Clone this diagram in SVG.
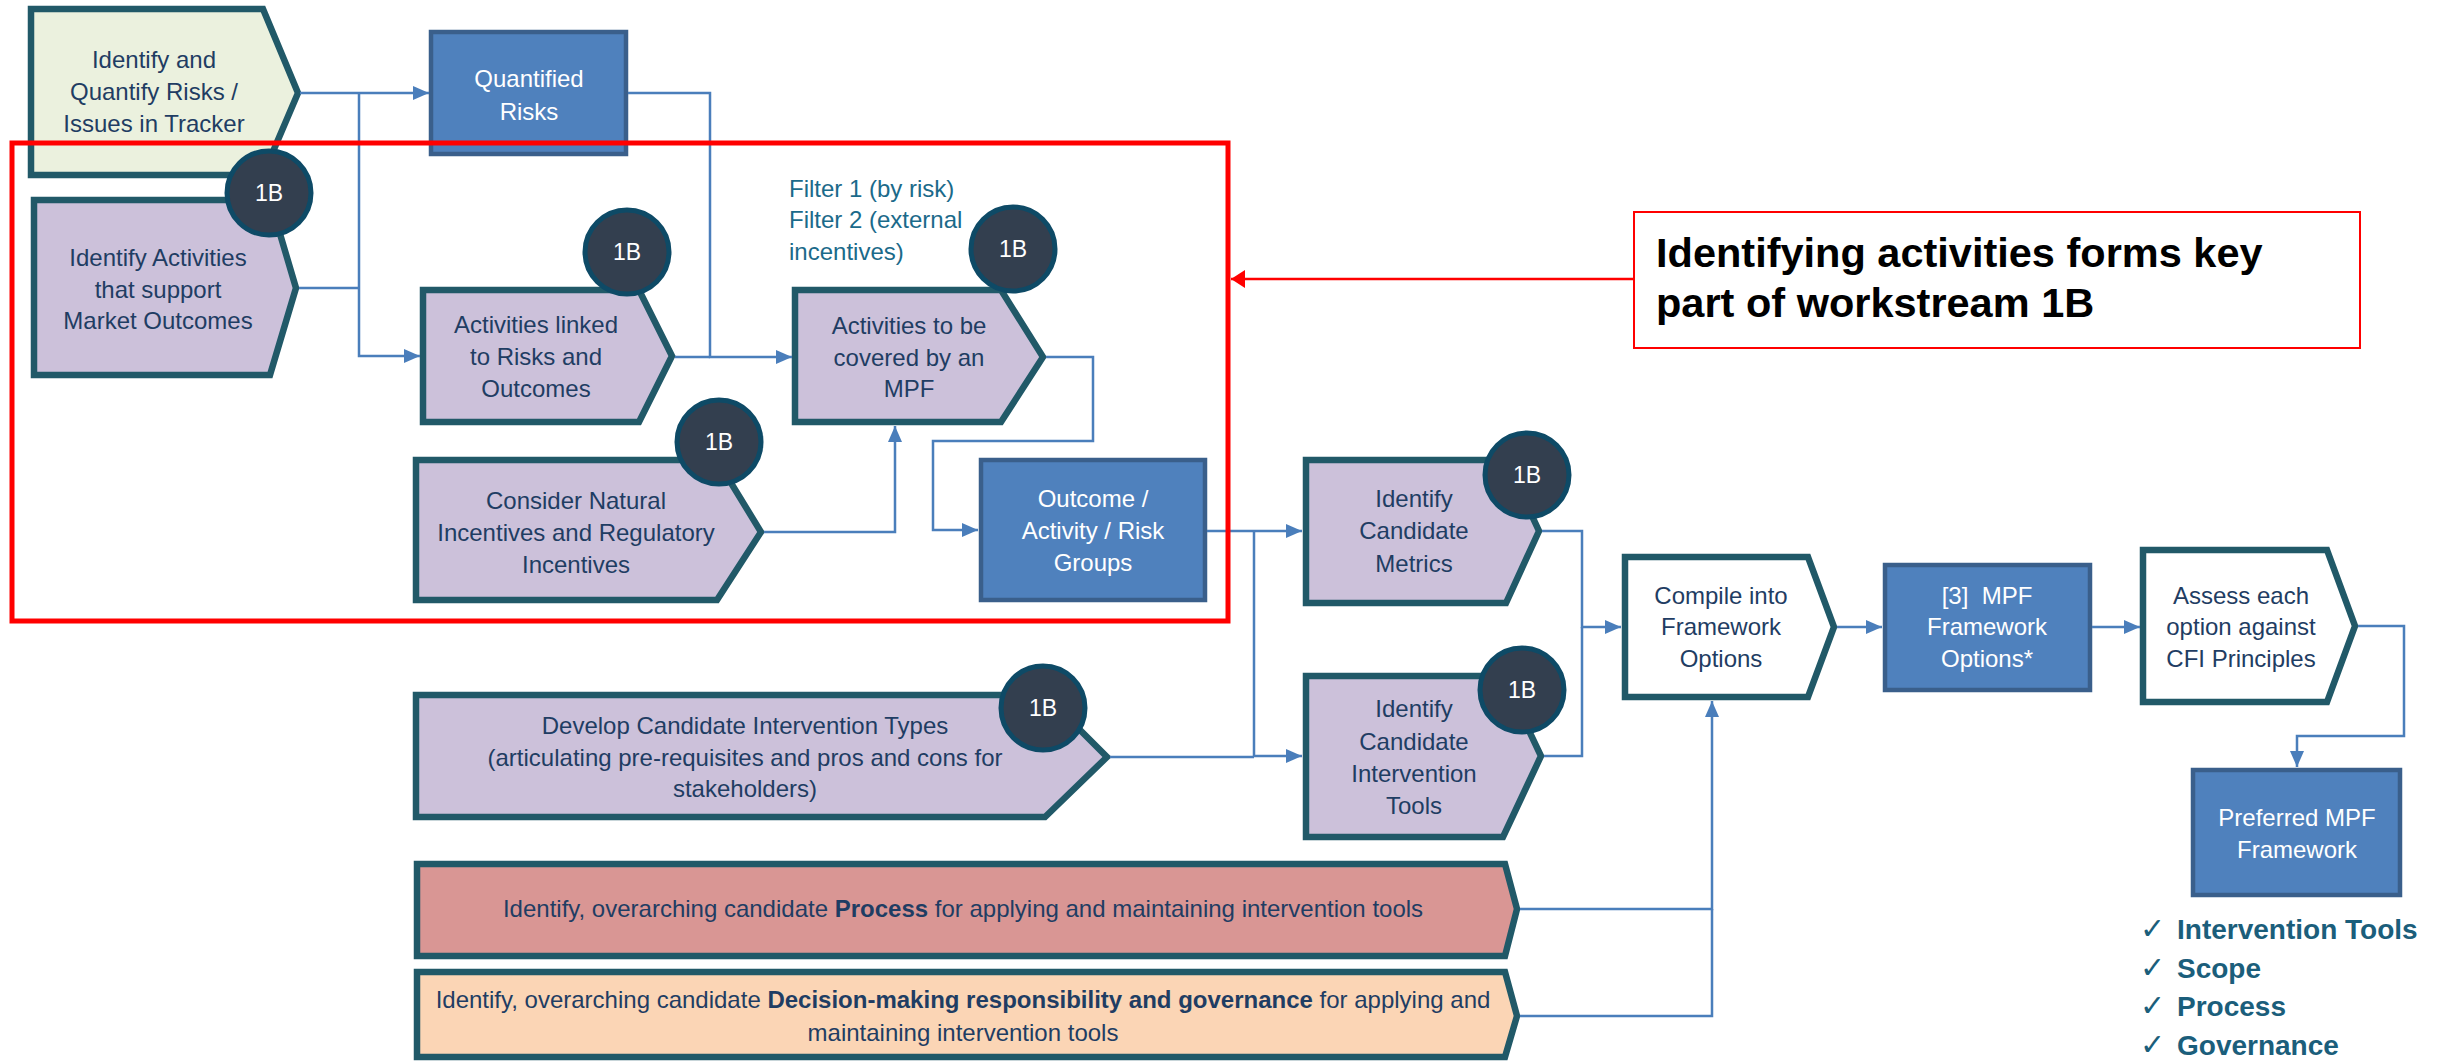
<svg xmlns="http://www.w3.org/2000/svg" width="2448" height="1062" viewBox="0 0 2448 1062">
<defs>
<style>
.chev{stroke:#215968;stroke-width:6.5;stroke-linejoin:miter}
.purple{fill:#CCC1DA}
.green{fill:#EBF1DE}
.wht{fill:#FFFFFF}
.pink{fill:#D99694}
.peach{fill:#FBD5B5}
.blue{fill:#4F81BD;stroke:#3A5F8B;stroke-width:4.5}
.bc{fill:#333F4F;stroke:#0E4A66;stroke-width:5}
.bt{font-family:"Liberation Sans",Arial,sans-serif;font-size:23px;fill:#FFFFFF;text-anchor:middle}
.t{font-family:"Liberation Sans",Arial,sans-serif;font-size:24px;fill:#1F3D63;text-anchor:middle}
.tw{fill:#FFFFFF}
.tl{font-family:"Liberation Sans",Arial,sans-serif;font-size:24px;fill:#1F3D63;text-anchor:middle}
.flt{font-family:"Liberation Sans",Arial,sans-serif;font-size:24px;fill:#1B6A8A}
.conn{fill:none;stroke:#4A7EBB;stroke-width:2.5}
.chk{font-family:"Liberation Sans",Arial,sans-serif;font-size:28px;font-weight:bold;fill:#1B5E7B}
.ck{font-family:"DejaVu Sans",sans-serif;font-size:30px;fill:#1B5E7B}
</style>
<marker id="ab" markerUnits="userSpaceOnUse" markerWidth="17" markerHeight="14" refX="16" refY="7" orient="auto">
<path d="M0,0 L16,7 L0,14 z" fill="#4A7EBB"/>
</marker>
<marker id="ar" markerUnits="userSpaceOnUse" markerWidth="15" markerHeight="18" refX="14" refY="9" orient="auto">
<path d="M0,0 L14,9 L0,18 z" fill="#FF0000"/>
</marker>
</defs>
<rect x="0" y="0" width="2448" height="1062" fill="#FFFFFF"/>

<g id="n-identify-quantify">
<polygon class="chev green" points="31,9 263,9 298,93 263,175 31,175"/>
<text class="t" x="154" y="68">Identify and</text>
<text class="t" x="154" y="100">Quantify Risks /</text>
<text class="t" x="154" y="132">Issues in Tracker</text>
</g>

<g id="n-quantified-risks">
<rect class="blue" x="431" y="32" width="195" height="122"/>
<text class="t tw" x="529" y="87">Quantified</text>
<text class="t tw" x="529" y="120">Risks</text>
</g>

<g id="n-identify-activities">
<polygon class="chev purple" points="34,200 270,200 296,288 270,375 34,375"/>
<text class="t" x="158" y="266">Identify Activities</text>
<text class="t" x="158" y="298">that support</text>
<text class="t" x="158" y="329">Market Outcomes</text>
<circle class="bc" cx="269" cy="193" r="42"/>
<text class="bt" x="269" y="201">1B</text>
</g>

<g id="n-activities-linked">
<polygon class="chev purple" points="423,290 639,290 672,356 639,422 423,422"/>
<text class="t" x="536" y="333">Activities linked</text>
<text class="t" x="536" y="365">to Risks and</text>
<text class="t" x="536" y="397">Outcomes</text>
<circle class="bc" cx="627" cy="252" r="42"/>
<text class="bt" x="627" y="260">1B</text>
</g>

<g id="filter-label">
<text class="flt" x="789" y="197">Filter 1 (by risk)</text>
<text class="flt" x="789" y="228">Filter 2 (external</text>
<text class="flt" x="789" y="260">incentives)</text>
</g>

<g id="n-activities-covered">
<polygon class="chev purple" points="795,290 1001,290 1043,357 1001,422 795,422"/>
<text class="t" x="909" y="334">Activities to be</text>
<text class="t" x="909" y="366">covered by an</text>
<text class="t" x="909" y="397">MPF</text>
<circle class="bc" cx="1013" cy="249" r="42"/>
<text class="bt" x="1013" y="257">1B</text>
</g>

<g id="n-consider-natural">
<polygon class="chev purple" points="416,460 717,460 761,532 717,600 416,600"/>
<text class="t" x="576" y="509">Consider Natural</text>
<text class="t" x="576" y="541">Incentives and Regulatory</text>
<text class="t" x="576" y="573">Incentives</text>
<circle class="bc" cx="719" cy="442" r="42"/>
<text class="bt" x="719" y="450">1B</text>
</g>

<g id="n-outcome-groups">
<rect class="blue" x="981" y="460" width="224" height="140"/>
<text class="t tw" x="1093" y="507">Outcome /</text>
<text class="t tw" x="1093" y="539">Activity / Risk</text>
<text class="t tw" x="1093" y="571">Groups</text>
</g>

<g id="n-develop-candidate">
<polygon class="chev purple" points="416,695 1045,695 1107,757 1045,817 416,817"/>
<text class="t" x="745" y="734">Develop Candidate Intervention Types</text>
<text class="t" x="745" y="766">(articulating pre-requisites and pros and cons for</text>
<text class="t" x="745" y="797">stakeholders)</text>
<circle class="bc" cx="1043" cy="708" r="42"/>
<text class="bt" x="1043" y="716">1B</text>
</g>

<g id="n-candidate-metrics">
<polygon class="chev purple" points="1306,460 1506,460 1539,531 1506,603 1306,603"/>
<text class="t" x="1414" y="507">Identify</text>
<text class="t" x="1414" y="539">Candidate</text>
<text class="t" x="1414" y="572">Metrics</text>
<circle class="bc" cx="1527" cy="475" r="42"/>
<text class="bt" x="1527" y="483">1B</text>
</g>

<g id="n-candidate-tools">
<polygon class="chev purple" points="1306,676 1503,676 1541,756 1503,837 1306,837"/>
<text class="t" x="1414" y="717">Identify</text>
<text class="t" x="1414" y="750">Candidate</text>
<text class="t" x="1414" y="782">Intervention</text>
<text class="t" x="1414" y="814">Tools</text>
<circle class="bc" cx="1522" cy="690" r="42"/>
<text class="bt" x="1522" y="698">1B</text>
</g>

<g id="n-compile">
<polygon class="chev wht" points="1625,557 1808,557 1834,627 1808,697 1625,697"/>
<text class="t" x="1721" y="604">Compile into</text>
<text class="t" x="1721" y="635">Framework</text>
<text class="t" x="1721" y="667">Options</text>
</g>

<g id="n-mpf-options">
<rect class="blue" x="1885" y="565" width="205" height="125"/>
<text class="t tw" x="1987" y="604" xml:space="preserve">[3]  MPF</text>
<text class="t tw" x="1987" y="635">Framework</text>
<text class="t tw" x="1987" y="667">Options*</text>
</g>

<g id="n-assess">
<polygon class="chev wht" points="2143,550 2327,550 2355,626 2327,702 2143,702"/>
<text class="t" x="2241" y="604">Assess each</text>
<text class="t" x="2241" y="635">option against</text>
<text class="t" x="2241" y="667">CFI Principles</text>
</g>

<g id="n-preferred">
<rect class="blue" x="2193" y="770" width="207" height="125"/>
<text class="t tw" x="2297" y="826">Preferred MPF</text>
<text class="t tw" x="2297" y="858">Framework</text>
</g>

<g id="checklist">
<text class="ck" x="2140" y="939">✓</text><text class="chk" x="2177" y="939">Intervention Tools</text>
<text class="ck" x="2140" y="978">✓</text><text class="chk" x="2177" y="978">Scope</text>
<text class="ck" x="2140" y="1016">✓</text><text class="chk" x="2177" y="1016">Process</text>
<text class="ck" x="2140" y="1055">✓</text><text class="chk" x="2177" y="1055">Governance</text>
</g>

<g id="n-process">
<polygon class="chev pink" points="417,864 1505,864 1517,909 1505,956 417,956"/>
<text class="tl" x="963" y="917">Identify, overarching candidate <tspan font-weight="bold">Process</tspan> for applying and maintaining intervention tools</text>
</g>

<g id="n-governance">
<polygon class="chev peach" points="417,972 1505,972 1517,1016 1505,1057 417,1057"/>
<text class="tl" x="963" y="1008">Identify, overarching candidate <tspan font-weight="bold">Decision-making responsibility and governance</tspan> for applying and</text>
<text class="tl" x="963" y="1041">maintaining intervention tools</text>
</g>

<g id="connectors">
<path class="conn" d="M300,93 L429,93" marker-end="url(#ab)"/>
<path class="conn" d="M359,93 L359,356 L420,356" marker-end="url(#ab)"/>
<path class="conn" d="M299,288 L359,288"/>
<path class="conn" d="M628,93 L710,93 L710,357 L792,357" marker-end="url(#ab)"/>
<path class="conn" d="M675,357 L710,357"/>
<path class="conn" d="M764,532 L895,532 L895,426" marker-end="url(#ab)"/>
<path class="conn" d="M1046,357 L1093,357 L1093,441 L933,441 L933,530 L978,530" marker-end="url(#ab)"/>
<path class="conn" d="M1207,531 L1302,531" marker-end="url(#ab)"/>
<path class="conn" d="M1254,531 L1254,756 L1302,756" marker-end="url(#ab)"/>
<path class="conn" d="M1110,757 L1254,757"/>
<path class="conn" d="M1542,531 L1582,531 L1582,627 L1621,627" marker-end="url(#ab)"/>
<path class="conn" d="M1544,756 L1582,756 L1582,627"/>
<path class="conn" d="M1837,627 L1882,627" marker-end="url(#ab)"/>
<path class="conn" d="M2092,627 L2140,627" marker-end="url(#ab)"/>
<path class="conn" d="M2358,626 L2404,626 L2404,736 L2297,736 L2297,767" marker-end="url(#ab)"/>
<path class="conn" d="M1520,909 L1712,909 L1712,701" marker-end="url(#ab)"/>
<path class="conn" d="M1520,1016 L1712,1016 L1712,909"/>
<path d="M1634,279 L1231,279" fill="none" stroke="#FF0000" stroke-width="2.5" marker-end="url(#ar)"/>
</g>

<g id="highlight-box">
<rect x="12" y="143" width="1216" height="478" fill="none" stroke="#FF0000" stroke-width="5"/>
</g>

<g id="callout">
<rect x="1634" y="212" width="726" height="136" fill="#FFFFFF" stroke="#FF0000" stroke-width="2"/>
<text x="1656" y="267" font-family="Liberation Sans, Arial, sans-serif" font-size="41.5" font-weight="bold" fill="#000000">Identifying activities forms key</text>
<text x="1656" y="317" font-family="Liberation Sans, Arial, sans-serif" font-size="41.5" font-weight="bold" fill="#000000">part of workstream 1B</text>
</g>
</svg>
